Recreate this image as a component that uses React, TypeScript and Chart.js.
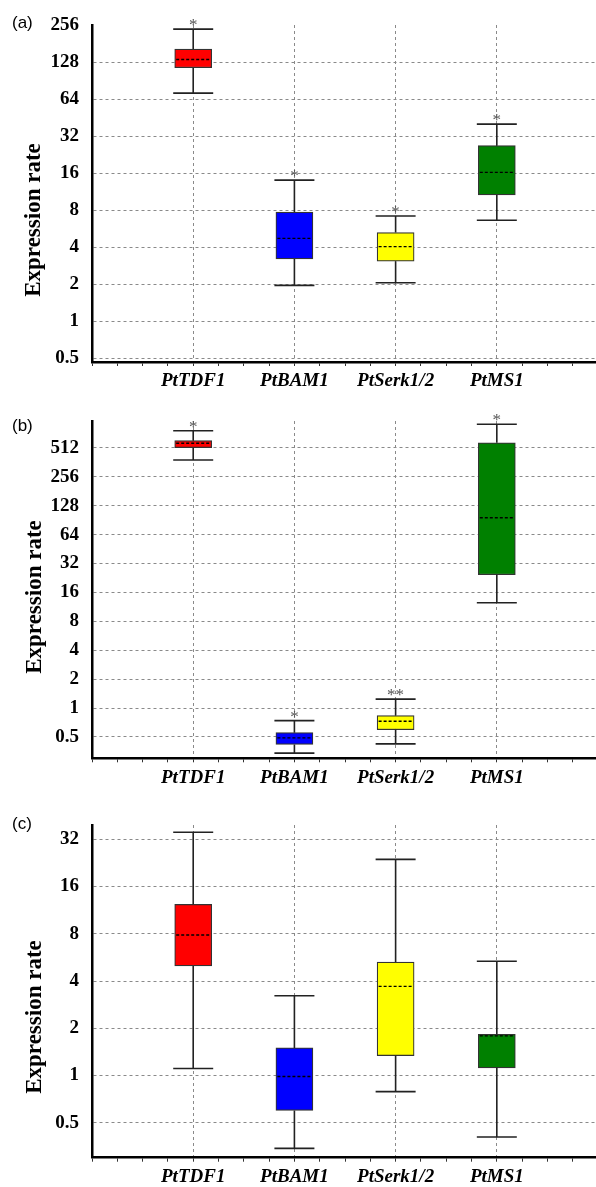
import React, { useEffect, useRef } from 'react';
import { Chart, registerables } from 'chart.js';

Chart.register(...registerables);

const genes = ['PtTDF1', 'PtBAM1', 'PtSerk1/2', 'PtMS1'];
const boxColors = ['#ff0000', '#0000ff', '#ffff00', '#008000'];

// Panel (a)
const aMin = [71.5, 1.95, 2.05, 6.6];
const aQ1 = [115, 3.2, 3.07, 10.6];
const aMedian = [134, 4.7, 4.03, 16.2];
const aQ3 = [163, 7.7, 5.24, 26.7];
const aMax = [237, 14.0, 7.16, 40];
const aSig = ['*', '*', '*', '*'];
const aTicks = [0.5, 1, 2, 4, 8, 16, 32, 64, 128, 256];
const aRange = [0.464, 256];

// Panel (b)
const bMin = [383, 0.34, 0.424, 12.5];
const bQ1 = [515, 0.418, 0.596, 24.5];
const bMedian = [572, 0.49, 0.73, 95.7];
const bQ3 = [609, 0.555, 0.835, 578];
const bMax = [773, 0.74, 1.24, 901];
const bSig = ['*', '*', '**', '*'];
const bTicks = [0.5, 1, 2, 4, 8, 16, 32, 64, 128, 256, 512];
const bRange = [0.313, 975];

// Panel (c)
const cMin = [1.11, 0.344, 0.79, 0.406];
const cQ1 = [4.99, 0.6, 1.34, 1.12];
const cMedian = [7.86, 0.986, 3.7, 1.79];
const cQ3 = [12.3, 1.5, 5.28, 1.83];
const cMax = [35.4, 3.22, 23.8, 5.35];
const cSig = ['', '', '', ''];
const cTicks = [0.5, 1, 2, 4, 8, 16, 32];
const cRange = [0.31, 39.4];

const SERIF = '"Liberation Serif", "Times New Roman", serif';
const SANS = '"Liberation Sans", Arial, sans-serif';
const GRID = '#8a8a8a';

const xMinorTicks = Array.from({ length: 20 }, (_, k) => k * 0.25);

function isCat(v: number) {
  const i = Math.round(v);
  return Math.abs(v - i) < 1e-6 && i >= 1 && i <= genes.length;
}

type PanelProps = {
  top: number;
  height: number;
  padTop: number;
  xAxisHeight: number;
  mins: number[];
  q1: number[];
  med: number[];
  q3: number[];
  maxs: number[];
  sig: string[];
  ticks: number[];
  range: number[];
};

function Panel(p: PanelProps) {
  const ref = useRef<HTMLCanvasElement | null>(null);
  useEffect(() => {
    if (!ref.current) return;
    const boxPlugin = {
      id: 'boxWhiskers',
      afterDatasetsDraw(chart: any) {
        const ctx = chart.ctx;
        const xs = chart.scales.x;
        const ys = chart.scales.y;
        ctx.save();
        for (let i = 0; i < genes.length; i++) {
          const x = xs.getPixelForValue(i + 1);
          const yMax = ys.getPixelForValue(p.maxs[i]);
          const yMin = ys.getPixelForValue(p.mins[i]);
          const yQ1 = ys.getPixelForValue(p.q1[i]);
          const yQ3 = ys.getPixelForValue(p.q3[i]);
          const yMed = ys.getPixelForValue(p.med[i]);
          ctx.strokeStyle = '#222';
          ctx.lineWidth = 1.6;
          ctx.setLineDash([]);
          ctx.beginPath();
          ctx.moveTo(x, yQ3);
          ctx.lineTo(x, yMax);
          ctx.moveTo(x, yQ1);
          ctx.lineTo(x, yMin);
          ctx.moveTo(x - 20, yMax);
          ctx.lineTo(x + 20, yMax);
          ctx.moveTo(x - 20, yMin);
          ctx.lineTo(x + 20, yMin);
          ctx.stroke();
          // median
          ctx.lineWidth = 1.4;
          ctx.strokeStyle = '#000';
          ctx.setLineDash([3, 2]);
          ctx.beginPath();
          ctx.moveTo(x - 17, yMed);
          ctx.lineTo(x + 17, yMed);
          ctx.stroke();
          ctx.setLineDash([]);
          if (p.sig[i]) {
            ctx.fillStyle = '#555';
            ctx.font = `17px ${SERIF}`;
            ctx.textAlign = 'center';
            ctx.textBaseline = 'alphabetic';
            ctx.fillText(p.sig[i], x, yMax + 1);
          }
        }
        ctx.restore();
      },
    };

    const chart = new Chart(ref.current, {
      type: 'bar',
      data: {
        datasets: [
          {
            data: genes.map((_, i) => ({ x: i + 1, y: [p.q1[i], p.q3[i]] })) as any,
            backgroundColor: boxColors,
            borderColor: '#333',
            borderWidth: 1.2,
            borderSkipped: false,
            barThickness: 37,
          } as any,
        ],
      },
      options: {
        animation: false,
        responsive: false,
        devicePixelRatio: 1,
        layout: { padding: { top: p.padTop, left: 0, right: 0, bottom: 0 } },
        plugins: { legend: { display: false }, tooltip: { enabled: false } },
        scales: {
          x: {
            type: 'linear',
            min: 0,
            max: 4.98,
            offset: false,
            afterBuildTicks: (s: any) => {
              s.ticks = xMinorTicks.map((v) => ({ value: v }));
            },
            afterFit: (s: any) => {
              s.height = p.xAxisHeight;
            },
            ticks: {
              autoSkip: false,
              maxRotation: 0,
              minRotation: 0,
              padding: 4,
              color: '#000',
              font: { family: SERIF, size: 19, style: 'italic', weight: 'bold' },
              callback: (v: any) => {
                const n = Number(v);
                return isCat(n) ? genes[Math.round(n) - 1] : '';
              },
            },
            grid: {
              offset: false,
              color: (c: any) => (c.tick && isCat(c.tick.value) ? GRID : 'rgba(0,0,0,0)'),
              lineWidth: 1,
              tickColor: '#333',
              tickLength: 4,
              tickWidth: 1,
              tickBorderDash: [],
            },
            border: { display: true, color: '#000', width: 2.5, dash: [3, 3] },
          } as any,
          y: {
            type: 'logarithmic',
            min: p.range[0],
            max: p.range[1],
            afterBuildTicks: (s: any) => {
              s.ticks = p.ticks.map((v) => ({ value: v }));
            },
            afterFit: (s: any) => {
              s.width = 92;
            },
            ticks: {
              autoSkip: false,
              padding: 13,
              color: '#000',
              font: { family: SERIF, size: 19, weight: 'bold' },
              callback: (v: any) => String(v),
            },
            grid: {
              color: (c: any) => (c.tick && c.tick.value >= p.range[1] ? 'rgba(0,0,0,0)' : GRID),
              lineWidth: 1,
              drawTicks: false,
            },
            border: { display: true, color: '#000', width: 2.5, dash: [3, 3] },
          } as any,
        },
      },
      plugins: [boxPlugin],
    });
    return () => chart.destroy();
  }, []);
  return (
    <canvas
      ref={ref}
      width={596}
      height={p.height}
      style={{ position: 'absolute', left: 0, top: p.top, width: 596, height: p.height }}
    />
  );
}

const labelStyle = (left: number, top: number): React.CSSProperties => ({
  position: 'absolute',
  left,
  top,
  fontFamily: SANS,
  fontSize: 17,
  lineHeight: '17px',
  color: '#000',
  whiteSpace: 'nowrap',
});

const titleStyle = (cx: number, cy: number): React.CSSProperties => ({
  position: 'absolute',
  left: cx,
  top: cy,
  transform: 'translate(-50%, -50%) rotate(-90deg)',
  fontFamily: SERIF,
  fontWeight: 'bold',
  fontSize: 23,
  lineHeight: '23px',
  color: '#000',
  whiteSpace: 'nowrap',
});

export default function App() {
  return (
    <div style={{ position: 'absolute', left: 0, top: 0, width: 596, height: 1187, background: '#fff', overflow: 'hidden' }}>
      <Panel top={0} height={393} padTop={25} xAxisHeight={31}
        mins={aMin} q1={aQ1} med={aMedian} q3={aQ3} maxs={aMax} sig={aSig} ticks={aTicks} range={aRange} />
      <Panel top={393} height={395} padTop={28} xAxisHeight={29.7}
        mins={bMin} q1={bQ1} med={bMedian} q3={bQ3} maxs={bMax} sig={bSig} ticks={bTicks} range={bRange} />
      <Panel top={788} height={399} padTop={37} xAxisHeight={29.3}
        mins={cMin} q1={cQ1} med={cMedian} q3={cQ3} maxs={cMax} sig={cSig} ticks={cTicks} range={cRange} />
      <div style={labelStyle(12, 14)}>(a)</div>
      <div style={labelStyle(12, 417)}>(b)</div>
      <div style={labelStyle(12, 815)}>(c)</div>
      <div style={titleStyle(32, 220)}>Expression rate</div>
      <div style={titleStyle(33, 597)}>Expression rate</div>
      <div style={titleStyle(33, 1017)}>Expression rate</div>
    </div>
  );
}
